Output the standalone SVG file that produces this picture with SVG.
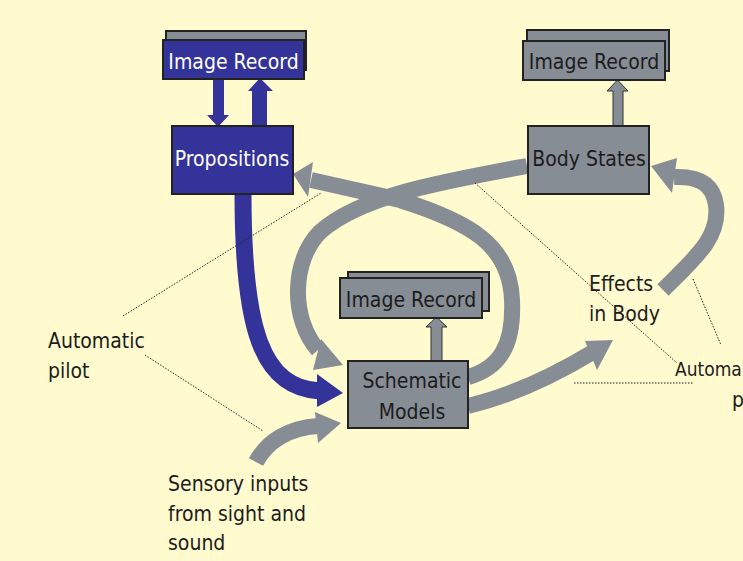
<svg xmlns="http://www.w3.org/2000/svg" width="743" height="561" viewBox="0 0 743 561">
<style>
.t{font-family:'DejaVu Sans Condensed','DejaVu Sans',sans-serif;font-stretch:condensed;font-size:21px;fill:#1c1c1c}
.w{fill:#ffffff}
.gb{fill:#868d95;stroke:#222;stroke-width:2}
.bb{fill:#333399;stroke:#222;stroke-width:2}
.band{fill:none;stroke:#868d95;stroke-width:16}
.blue{fill:none;stroke:#333399;stroke-width:17}
.gh{fill:#868d95}
.bh{fill:#333399}
.ga{fill:#868d95;stroke:#333;stroke-width:1}
.dot{fill:none;stroke:#222;stroke-width:1;stroke-dasharray:1.5 1.5}
</style>
<rect width="743" height="561" fill="#fffbcf"/>
<g id="connectors">
<path class="blue" d="M243,194 C243,330 262,388 320,391"/>
<polygon class="bh" points="317,374 343,393 317,407"/>
<path class="band" d="M527,166 C440,182 360,196 320,232 C292,260 290,318 318,350"/>
<polygon class="gh" points="321,339 343,365 313,370"/>
<path class="band" d="M468,377 C500,368 514,345 512,300 C510,245 470,222 400,200 L311,180"/>
<polygon class="gh" points="293,174 313,162 308,197"/>
<path class="band" d="M663,290 C695,258 720,238 716,205 C713,183 698,176 674,177"/>
<polygon class="gh" points="651,166 677,158 672,193"/>
<path class="band" d="M468,406 C510,396 550,378 593,352"/>
<polygon class="gh" points="585,341 613,340 597,370"/>
<path class="band" d="M256,462 C268,440 290,428 318,426"/>
<polygon class="gh" points="315,412 341,423 318,443"/>
<path class="bh" d="M213,79 H224 V115 H229 L218,127 L207,115 H213 Z"/>
<path class="bh" d="M252,126 V91 H248 L260,78 L273,91 H267 V126 Z"/>
<path class="ga" d="M613,126 V91 H607 L617.5,80 L628,91 H623 V126 Z"/>
<path class="ga" d="M431,361 V327 H426 L436.5,317 L447,327 H442 V361 Z"/>
<line class="dot" x1="123" y1="316" x2="321" y2="193"/>
<line class="dot" x1="145" y1="355" x2="263" y2="431"/>
<line class="dot" x1="475" y1="183" x2="677" y2="363"/>
<line class="dot" x1="693" y1="279" x2="721" y2="345"/>
<line class="dot" x1="574" y1="383" x2="693" y2="383"/>
</g>
<g id="image-record-1">
<rect class="gb" x="166" y="31" width="140" height="39"/>
<rect class="bb" x="163" y="40" width="141" height="39"/>
<text class="t w" x="233.5" y="69" text-anchor="middle">Image Record</text>
</g>
<g id="propositions">
<rect class="bb" x="172" y="126" width="121" height="68"/>
<text class="t w" x="232" y="166" text-anchor="middle">Propositions</text>
</g>
<g id="image-record-2">
<rect class="gb" x="527" y="30" width="142" height="41"/>
<rect class="gb" x="523" y="41" width="142" height="39"/>
<text class="t" x="594" y="69" text-anchor="middle">Image Record</text>
</g>
<g id="body-states">
<rect class="gb" x="528" y="126" width="121" height="68"/>
<text class="t" x="589" y="166" text-anchor="middle">Body States</text>
</g>
<g id="image-record-3">
<rect class="gb" x="348" y="272" width="141" height="39"/>
<rect class="gb" x="340" y="278" width="142" height="40"/>
<text class="t" x="411" y="307" text-anchor="middle">Image Record</text>
</g>
<g id="schematic-models">
<rect class="gb" x="348" y="361" width="120" height="67"/>
<text class="t" x="412" y="388" text-anchor="middle">Schematic</text>
<text class="t" x="412" y="419" text-anchor="middle">Models</text>
</g>
<g id="effects-in-body">
<text class="t" x="589" y="291">Effects</text>
<text class="t" x="589" y="321">in Body</text>
</g>
<g id="automatic-pilot-left">
<text class="t" x="48" y="348">Automatic</text>
<text class="t" x="48" y="378">pilot</text>
</g>
<g id="automatic-pilot-right">
<text class="t" x="675" y="376" style="font-size:19px">Automa</text>
<text class="t" x="732" y="407">p</text>
</g>
<g id="sensory-inputs">
<text class="t" x="168" y="491">Sensory inputs</text>
<text class="t" x="168" y="521">from sight and</text>
<text class="t" x="168" y="550">sound</text>
</g>
</svg>
